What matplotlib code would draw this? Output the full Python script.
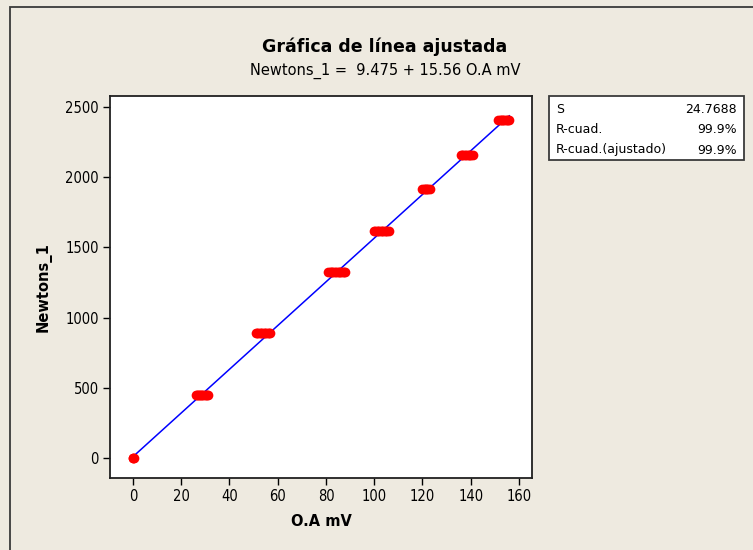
import matplotlib
matplotlib.use("Agg")
import matplotlib.pyplot as plt
from matplotlib.patches import Rectangle
import numpy as np

# ---- data ----
newton_levels = [0, 449, 888, 1327, 1619, 1916, 2160, 2404]
oa_readings = [
    [0.0, 0.2, 0.4],
    [26.0, 26.5, 27.0, 27.4, 27.9, 28.3, 28.8, 29.2, 29.7, 30.1, 30.6, 31.0],
    [51.0, 51.5, 52.0, 52.6, 53.1, 53.7, 54.2, 54.8, 55.3, 55.9, 56.4, 57.0],
    [81.0, 81.5, 82.0, 82.6, 83.1, 83.7, 84.2, 84.8, 85.3, 85.9, 86.4, 87.0, 87.5, 88.0],
    [100.0, 100.5, 101.0, 101.6, 102.1, 102.7, 103.2, 103.8, 104.3, 104.9, 105.4, 106.0],
    [120.0, 120.5, 121.0, 121.5, 122.0, 122.5, 123.0],
    [136.0, 136.5, 137.0, 137.6, 138.1, 138.7, 139.2, 139.8, 140.3, 141.0],
    [151.5, 152.0, 152.5, 153.0, 153.5, 154.0, 154.5, 155.0, 155.5, 156.0],
]
intercept = 9.475
slope = 15.56
x_ticks = [0, 20, 40, 60, 80, 100, 120, 140, 160]
y_ticks = [0, 500, 1000, 1500, 2000, 2500]
stats_labels = ["S", "R-cuad.", "R-cuad.(ajustado)"]
stats_values = ["24.7688", "99.9%", "99.9%"]

title = "Gráfica de línea ajustada"
subtitle = "Newtons_1 =  9.475 + 15.56 O.A mV"
xlabel = "O.A mV"
ylabel = "Newtons_1"

# ---- figure ----
W, H = 753, 550
bg = "#EEEAE0"
fig = plt.figure(figsize=(W / 100, H / 100), dpi=100, facecolor=bg)
plt.rcParams['font.family'] = ['DejaVu Sans']

def fx(px):
    return px / W

def fy(py):
    return 1 - py / H

# outer frame
fig.patches.append(Rectangle((fx(10), fy(600)), fx(800), fy(7) - fy(600),
                             transform=fig.transFigure, fill=False,
                             edgecolor="#3a3a3a", linewidth=1.3, zorder=0))

ax = fig.add_axes([fx(110), fy(478), fx(532) - fx(110), fy(96) - fy(478)])
ax.set_facecolor("white")

xs, ys = [], []
for lvl, readings in zip(newton_levels, oa_readings):
    for r in readings:
        xs.append(r)
        ys.append(lvl)
xs = np.array(xs)
ys = np.array(ys)

xl = np.array([xs.min(), xs.max()])
ax.plot(xl, intercept + slope * xl, color="#0000FF", linewidth=1.1, zorder=2)
ax.plot(xs, ys, "o", color="#FF0000", markersize=7, markeredgewidth=0, zorder=3)

ax.set_xlim(-9.5, 165.4)
ax.set_ylim(-142, 2578)
ax.set_xticks(x_ticks)
ax.set_yticks(y_ticks)
tick_font = dict(family="DejaVu Sans", stretch="condensed", size=10.5)
ax.set_xticklabels([str(t) for t in x_ticks], fontdict=tick_font)
ax.set_yticklabels([str(t) for t in y_ticks], fontdict=tick_font)
ax.tick_params(direction="out", length=5, width=1, color="black", pad=3,
               top=False, right=False)
for s in ax.spines.values():
    s.set_linewidth(1.3)
    s.set_color("#202020")

ax.set_xlabel(xlabel, fontsize=10.5, fontweight="bold", labelpad=7)
ax.set_ylabel(ylabel, fontsize=10.5, fontweight="bold", labelpad=10)

fig.text(fx(385), fy(47), title, ha="center", va="center",
         fontsize=12.5, fontweight="bold")
fig.text(fx(385), fy(71), subtitle, ha="center", va="center", fontsize=10.5)

# stats box
bx0, bx1, by0, by1 = 549, 744, 96, 160
fig.patches.append(Rectangle((fx(bx0), fy(by1)), fx(bx1) - fx(bx0), fy(by0) - fy(by1),
                             transform=fig.transFigure, facecolor="white",
                             edgecolor="#3a3a3a", linewidth=1.3, zorder=1))
for i, (lab, val) in enumerate(zip(stats_labels, stats_values)):
    yy = 109 + i * 20.5
    fig.text(fx(bx0 + 7), fy(yy), lab, ha="left", va="center", fontsize=9, zorder=2)
    fig.text(fx(bx1 - 7), fy(yy), val, ha="right", va="center", fontsize=9, zorder=2)

fig.savefig("out.png", dpi=100, facecolor=bg)
